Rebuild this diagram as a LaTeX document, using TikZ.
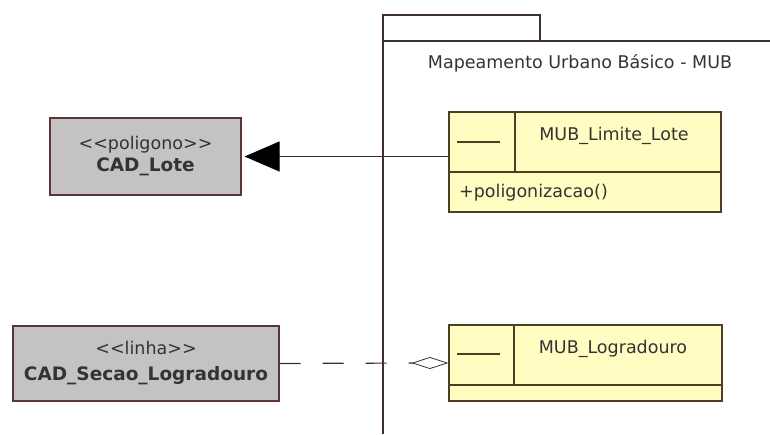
\documentclass[tikz,border=0pt]{standalone}
\usepackage{fontspec}
\setmainfont{DejaVu Sans}
\usetikzlibrary{arrows.meta}

\definecolor{cadfill}{HTML}{C4C2C2}
\definecolor{cadedge}{HTML}{5E3434}
\definecolor{classfill}{HTML}{FFFDC2}
\definecolor{classedge}{HTML}{4E3F24}
\definecolor{pkgedge}{HTML}{3E2E2E}

\tikzset{
  cadbox/.style={draw=cadedge, fill=cadfill, line width=1.2pt, inner sep=0pt,
    align=center, font=\fontsize{17.5}{22}\selectfont, text=black!80},
  classbox/.style={draw=classedge, fill=classfill, line width=1.2pt, inner sep=0pt},
  classtext/.style={font=\fontsize{17.5}{20}\selectfont, text=black!80},
}

\begin{document}
\begin{tikzpicture}[x=1pt, y=-1pt]
  \useasboundingbox (0,0) rectangle (770,434);

  % Package frame
  \draw[pkgedge, line width=1.2pt] (383,434) -- (383,15) -- (540,15) -- (540,41);
  \draw[pkgedge, line width=1.2pt] (383,41) -- (770,41);
  \node[classtext] (mub) at (580,63) {Mapeamento Urbano Básico - MUB};

  % Nodes with manual coordinates
  \node[cadbox, minimum width=191, minimum height=77] (lote) at (145.5,156.5)
    {<\kern0pt<poligono>\kern0pt>\\{\fontsize{18.5}{22}\selectfont\bfseries CAD\_Lote}};
  \node[cadbox, minimum width=266, minimum height=75] (secao) at (146,363.5)
    {<\kern0pt<linha>\kern0pt>\\[4pt]{\fontsize{18.5}{22}\selectfont\bfseries CAD\_Secao\_Logradouro}};

  \node[classbox, minimum width=272, minimum height=100] (limite) at (585,162) {};
  \draw[classedge, line width=1.2pt] (449,172) -- (721,172);
  \draw[classedge, line width=1.2pt] (515,112) -- (515,172);
  \draw[classedge, line width=1.2pt] (457,142) -- (500,142);
  \node[classtext] (limitename) at (614,136) {MUB\_Limite\_Lote};
  \node[classtext, anchor=west, inner sep=0pt] (limiteop) at (459,193) {+poligonizacao()};

  \node[classbox, minimum width=273, minimum height=76] (logra) at (585.5,363) {};
  \draw[classedge, line width=1.2pt] (449,385) -- (722,385);
  \draw[classedge, line width=1.2pt] (514,325) -- (514,385);
  \draw[classedge, line width=1.2pt] (457,354) -- (500,354);
  \node[classtext] (lograname) at (613,349) {MUB\_Logradouro};

  % Edges
  \draw[pkgedge, line width=1.2pt, -{Triangle[length=35pt, width=30pt, fill=black, color=black]}, shorten >=3pt]
    (limite.west |- lote.east) -- (lote.east);
  \draw[pkgedge, line width=1.2pt, dash pattern=on 21pt off 22pt]
    (secao.east) -- (412,363);
  \draw[pkgedge, line width=0.8pt, {Diamond[open, length=37pt, width=12pt, fill=white]}-]
    (logra.west) -- (412,363);
\end{tikzpicture}
\end{document}
